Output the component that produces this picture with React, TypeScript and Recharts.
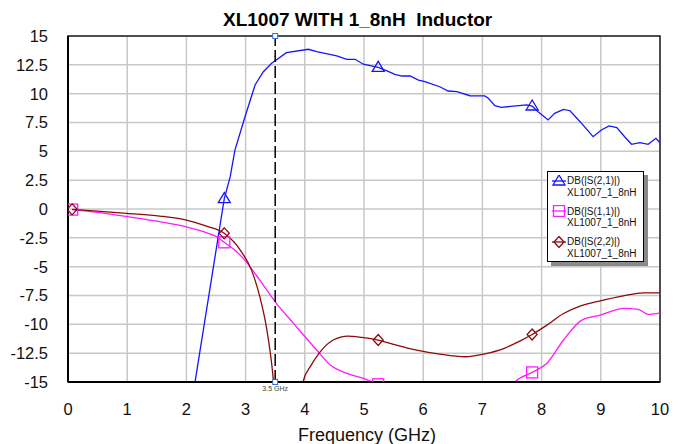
import React from "react"
import {
  CartesianGrid,
  Legend,
  Line,
  LineChart,
  ReferenceArea,
  ReferenceDot,
  ReferenceLine,
  XAxis,
  YAxis,
} from "recharts"

// frequency (GHz), dB
const S21: [number, number][] = [
  [0.07, -42], [0.5, -38], [1.0, -33], [1.5, -27], [2.0, -19.7], [2.64, 0.9],
  [2.74, 2.8], [2.82, 5.1], [2.99, 8.0], [3.16, 10.75], [3.3, 11.9], [3.44, 12.63],
  [3.69, 13.55], [4.06, 13.85], [4.2, 13.64], [4.54, 13.27], [4.71, 12.98], [4.85, 12.98],
  [4.99, 12.55], [5.24, 12.28], [5.38, 11.99], [5.52, 11.68], [5.64, 11.53], [5.78, 11.53],
  [5.92, 11.18], [6.03, 11.04], [6.28, 10.6], [6.42, 10.23], [6.57, 10.17], [6.79, 9.82],
  [7.04, 9.8], [7.1, 9.6], [7.21, 8.96], [7.32, 8.82], [7.75, 9.02], [7.84, 8.93],
  [7.94, 8.44], [8.11, 7.72], [8.22, 8.29], [8.37, 8.64], [8.48, 8.52], [8.65, 7.57],
  [8.87, 6.27], [9.01, 6.85], [9.14, 7.2], [9.27, 7.05], [9.41, 6.22], [9.52, 5.61],
  [9.66, 5.75], [9.8, 5.61], [9.93, 6.13], [10, 5.75],
]

const S11: [number, number][] = [
  [0.07, -0.05], [0.5, -0.3], [1.0, -0.67], [1.55, -1.1], [2.0, -1.54], [2.29, -1.97],
  [2.51, -2.4], [2.64, -2.89], [2.8, -3.5], [2.96, -4.28], [3.24, -6.16], [3.52, -8.18],
  [3.81, -9.92], [4.2, -12.23], [4.43, -13.53], [4.71, -14.25], [4.99, -14.69], [5.13, -14.98],
  [5.24, -15.2], [5.6, -16.5], [6.0, -18], [6.5, -19.5], [7.0, -18], [7.4, -16],
  [7.55, -15.0], [7.84, -14.17], [8.09, -13.38], [8.37, -11.36], [8.68, -9.63], [8.99, -9.2],
  [9.21, -8.82], [9.38, -8.62], [9.63, -8.7], [9.8, -9.13], [10, -9.0],
]

const S22: [number, number][] = [
  [0.07, -0.03], [0.5, -0.18], [0.99, -0.38], [1.55, -0.61], [2.0, -0.96], [2.34, -1.48],
  [2.64, -2.11], [2.91, -3.56], [3.1, -5.3], [3.24, -7.6], [3.36, -10.5], [3.44, -13.4],
  [3.5, -16.5], [3.6, -22], [3.75, -24], [3.88, -19], [3.97, -15], [4.1, -13.6],
  [4.26, -12.38], [4.48, -11.36], [4.73, -11.02], [4.96, -11.13], [5.24, -11.36], [5.55, -11.8],
  [5.89, -12.23], [6.28, -12.58], [6.71, -12.81], [7.02, -12.58], [7.36, -12.1], [7.64, -11.43],
  [7.84, -10.88], [8.09, -10.07], [8.37, -9.06], [8.65, -8.42], [8.99, -7.96], [9.38, -7.53],
  [9.72, -7.27], [10, -7.27],
]

const MARKS = [0.07, 2.64, 5.24, 7.84]
const X_TICKS = [0, 1, 2, 3, 4, 5, 6, 7, 8, 9, 10]
const Y_TICKS = [-15, -12.5, -10, -7.5, -5, -2.5, 0, 2.5, 5, 7.5, 10, 12.5, 15]
const MARKER_FREQ = 3.5

const SERIES = [
  { name: "DB(|S(2,1)|)", sub: "XL1007_1_8nH", color: "#1515ff", shape: "tri" },
  { name: "DB(|S(1,1)|)", sub: "XL1007_1_8nH", color: "#ff1aff", shape: "sq" },
  { name: "DB(|S(2,2)|)", sub: "XL1007_1_8nH", color: "#8b0a0a", shape: "dia" },
]

const FONT = '"Liberation Sans", Arial, sans-serif'

const pts = (a: [number, number][]) => a.map(([f, v]) => ({ f, v }))

function Symbol({ shape, color, cx, cy }: { shape: string; color: string; cx: number; cy: number }) {
  if (shape === "tri")
    return (
      <polygon
        points={`${cx},${cy - 6} ${cx - 6},${cy + 4} ${cx + 6},${cy + 4}`}
        fill="none"
        stroke={color}
        strokeWidth={1.3}
      />
    )
  if (shape === "sq")
    return <rect x={cx - 5.5} y={cy - 5.5} width={11} height={11} fill="none" stroke={color} strokeWidth={1.3} />
  return (
    <polygon
      points={`${cx},${cy - 5.5} ${cx + 5},${cy} ${cx},${cy + 5.5} ${cx - 5},${cy}`}
      fill="none"
      stroke={color}
      strokeWidth={1.3}
    />
  )
}

const markerDot = (shape: string, color: string) => (props: any) => {
  const { cx, cy, payload, index } = props
  const key = `${shape}-${index}`
  if (cx == null || cy == null || !MARKS.some((m) => Math.abs(m - payload.f) < 1e-6)) return <g key={key} />
  return (
    <g key={key}>
      <Symbol shape={shape} color={color} cx={cx} cy={cy} />
    </g>
  )
}

const renderLegend = () => (
  <div
    style={{
      width: 97,
      background: "#fff",
      border: "1px solid #000",
      boxShadow: "4px 4px 0 #8a8a8a",
      padding: "3px 0 2px 3px",
      fontFamily: FONT,
      fontSize: 10,
      lineHeight: "11.5px",
      color: "#111",
      boxSizing: "border-box",
    }}
  >
    {SERIES.map((s, i) => (
      <div key={s.name} style={{ display: "flex", marginTop: i === 0 ? 0 : 7.5 }}>
        <svg width={16} height={12} style={{ flex: "none", marginTop: -0.5 }}>
          <line x1={1} y1={6} x2={15} y2={6} stroke={s.color} strokeWidth={1.3} />
          <Symbol shape={s.shape} color={s.color} cx={8} cy={6} />
        </svg>
        <div>
          <div>{s.name}</div>
          <div>{s.sub}</div>
        </div>
      </div>
    ))}
  </div>
)

const smallSquare = (p: any) => (
  <rect x={p.cx - 2.5} y={p.cy - 2.5} width={5} height={5} fill="#fff" stroke="#2f6fd6" strokeWidth={1} />
)

export default function App() {
  const tick = { fontSize: 16.5, fontFamily: FONT, fill: "#111" }
  return (
    <div style={{ position: "relative", width: 687, height: 444, background: "#fff" }}>
      <style>{"body{margin:0}"}</style>
      <div
        style={{
          position: "absolute",
          top: 10,
          left: 223,
          fontFamily: FONT,
          fontWeight: "bold",
          fontSize: 19,
          lineHeight: "19px",
          whiteSpace: "pre",
          color: "#000",
        }}
      >
        {"XL1007 WITH 1_8nH  Inductor"}
      </div>
      <LineChart width={687} height={444} margin={{ top: 36, right: 27, left: 0, bottom: 0 }}>
        <CartesianGrid stroke="#c8c8c8" strokeWidth={1.5} />
        <XAxis
          dataKey="f"
          type="number"
          domain={[0, 10]}
          ticks={X_TICKS}
          allowDataOverflow
          height={62}
          tickLine={false}
          tickSize={0}
          tickMargin={21}
          axisLine={{ stroke: "#000", strokeWidth: 2 }}
          tick={tick}
          label={{
            value: "Frequency (GHz)",
            position: "insideBottom",
            offset: 3,
            dx: 3,
            style: { fontSize: 18, fontFamily: FONT, fill: "#111" },
          }}
        />
        <YAxis
          type="number"
          domain={[-15, 15]}
          ticks={Y_TICKS}
          allowDataOverflow
          width={68}
          tickLine={false}
          tickSize={0}
          tickMargin={20}
          axisLine={{ stroke: "#000", strokeWidth: 2 }}
          tick={tick}
        />
        <ReferenceArea x1={0} x2={10} y1={-15} y2={15} fill="none" stroke="#222" strokeWidth={1.5} />
        <Legend
          layout="horizontal"
          align="center"
          verticalAlign="middle"
          content={renderLegend}
          wrapperStyle={{ position: "absolute", left: 547, top: 171, width: 100 }}
        />
        <Line
          data={pts(S11)}
          dataKey="v"
          type="monotone"
          stroke={SERIES[1].color}
          strokeWidth={1.3}
          dot={markerDot("sq", SERIES[1].color)}
          activeDot={false}
          isAnimationActive={false}
        />
        <Line
          data={pts(S22)}
          dataKey="v"
          type="monotone"
          stroke={SERIES[2].color}
          strokeWidth={1.3}
          dot={markerDot("dia", SERIES[2].color)}
          activeDot={false}
          isAnimationActive={false}
        />
        <Line
          data={pts(S21)}
          dataKey="v"
          type="linear"
          stroke={SERIES[0].color}
          strokeWidth={1.3}
          dot={markerDot("tri", SERIES[0].color)}
          activeDot={false}
          isAnimationActive={false}
        />
        <ReferenceLine
          x={MARKER_FREQ}
          stroke="#000"
          strokeWidth={1.5}
          strokeDasharray="12 4"
          label={{ value: "3.5 GHz", position: "bottom", offset: 4, style: { fontSize: 7, fontFamily: FONT, fill: "#444" } }}
        />
        <ReferenceDot x={MARKER_FREQ} y={15} r={2.5} shape={smallSquare} />
        <ReferenceDot x={MARKER_FREQ} y={-15} r={2.5} shape={smallSquare} />
      </LineChart>
    </div>
  )
}
